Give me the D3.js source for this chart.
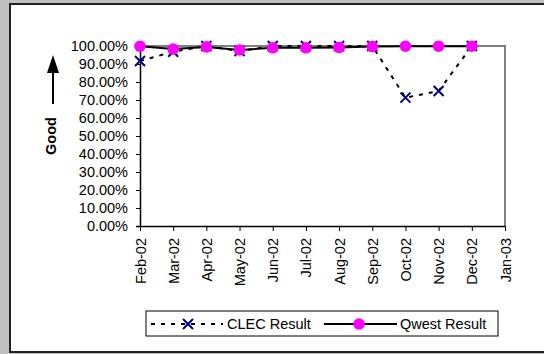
<!DOCTYPE html>
<html><head><meta charset="utf-8">
<script src="https://cdn.jsdelivr.net/npm/d3@7"></script>
<style>html,body{margin:0;padding:0;background:#c0c0c0;}svg{display:block;}</style>
</head><body>
<svg id="c" width="544" height="354"></svg>
<script>
const months = ["Feb-02","Mar-02","Apr-02","May-02","Jun-02","Jul-02","Aug-02","Sep-02","Oct-02","Nov-02","Dec-02","Jan-03"];
const clecValues = [0.917, 0.968, 1.0, 0.972, 1.0, 1.0, 1.0, 1.0, 0.713, 0.75, 1.0];
const qwestValues = [0.999, 0.983, 0.995, 0.978, 0.990, 0.990, 0.992, 0.997, 0.999, 0.999, 0.999];
const yTicks = [0,0.1,0.2,0.3,0.4,0.5,0.6,0.7,0.8,0.9,1.0];
const seriesNames = ["CLEC Result","Qwest Result"];

(function(){
const svg = d3.select("#c");
const font = "Liberation Sans, Arial, sans-serif";

// white panel
svg.append("rect").attr("x",10).attr("y",4).attr("width",560).attr("height",348)
  .attr("fill","#fff").attr("stroke","#222").attr("stroke-width",2);

const pl = 140, pr = 505, pt = 46, pb = 226;
const x = d3.scalePoint().domain(months).range([pl, pr]);
const y = d3.scaleLinear().domain([0,1]).range([pb, pt]);

// plot border (gray top/right)
svg.append("path").attr("d",`M${pl},${pt}H${pr}V${pb}`)
  .attr("fill","none").attr("stroke","#808080").attr("stroke-width",2);

// y axis
const yAxis = svg.append("g").attr("transform",`translate(${pl},0)`)
  .call(d3.axisLeft(y).tickValues(yTicks).tickFormat(d3.format(".2%")).tickSize(4).tickPadding(8));
yAxis.select(".domain").attr("stroke","#000").attr("stroke-width",1.5);
yAxis.selectAll(".tick line").attr("stroke","#000");
yAxis.selectAll("text").attr("font-family",font).attr("font-size","14.5px").attr("fill","#000");

// x axis
const xAxis = svg.append("g").attr("transform",`translate(0,${pb})`)
  .call(d3.axisBottom(x).tickSize(5).tickSizeOuter(0));
xAxis.select(".domain").attr("stroke","#000").attr("stroke-width",1.5);
xAxis.selectAll(".tick line").attr("stroke","#000");
xAxis.selectAll("text").attr("font-family",font).attr("font-size","14.5px").attr("fill","#000")
  .attr("transform","rotate(-90)").attr("text-anchor","end").attr("dy","0.35em")
  .attr("x",-12).attr("y",0);

// Good label + arrow
svg.append("text").attr("transform","translate(56,136) rotate(-90)")
  .attr("text-anchor","middle").attr("font-family",font).attr("font-weight","bold")
  .attr("font-size","14.5px").text("Good");
svg.append("line").attr("x1",53).attr("x2",53).attr("y1",104).attr("y2",70)
  .attr("stroke","#000").attr("stroke-width",2);
svg.append("path").attr("d","M53,55 L47,73 L59,73 Z").attr("fill","#000");

// lines
const idx = d3.range(clecValues.length);
const lineGen = vals => d3.line().x(i => x(months[i])).y(i => y(vals[i]))(idx);
svg.append("path").attr("d",lineGen(clecValues)).attr("fill","none")
  .attr("stroke","#000").attr("stroke-width",2).attr("stroke-dasharray","4,6");
svg.append("path").attr("d",lineGen(qwestValues)).attr("fill","none")
  .attr("stroke","#000").attr("stroke-width",2);

function xMark(g, cx, cy, s){
  g.append("path").attr("d",`M${cx-s},${cy-s}L${cx+s},${cy+s}M${cx-s},${cy+s}L${cx+s},${cy-s}`)
   .attr("stroke","#000080").attr("stroke-width",2).attr("fill","none");
}
const mk = svg.append("g");
idx.forEach(i => xMark(mk, x(months[i]), y(clecValues[i]), 5));
idx.forEach(i => mk.append("circle").attr("cx",x(months[i])).attr("cy",y(qwestValues[i])).attr("r",5.8).attr("fill","#ff00ff"));

// legend
const lg = svg.append("g");
lg.append("rect").attr("x",146).attr("y",311).attr("width",352).attr("height",25)
  .attr("fill","#fff").attr("stroke","#000").attr("stroke-width",1);
const ly = 324;
lg.append("line").attr("x1",151).attr("x2",223).attr("y1",ly).attr("y2",ly)
  .attr("stroke","#000").attr("stroke-width",2).attr("stroke-dasharray","4,6");
xMark(lg, 188, ly, 5);
lg.append("text").attr("x",227).attr("y",ly).attr("dy","0.35em").attr("font-family",font)
  .attr("font-size","14.5px").text(seriesNames[0]);
lg.append("line").attr("x1",324).attr("x2",397).attr("y1",ly).attr("y2",ly)
  .attr("stroke","#000").attr("stroke-width",2);
lg.append("circle").attr("cx",359).attr("cy",ly).attr("r",5.8).attr("fill","#ff00ff");
lg.append("text").attr("x",400).attr("y",ly).attr("dy","0.35em").attr("font-family",font)
  .attr("font-size","14.5px").text(seriesNames[1]);
})();
</script>
</body></html>
